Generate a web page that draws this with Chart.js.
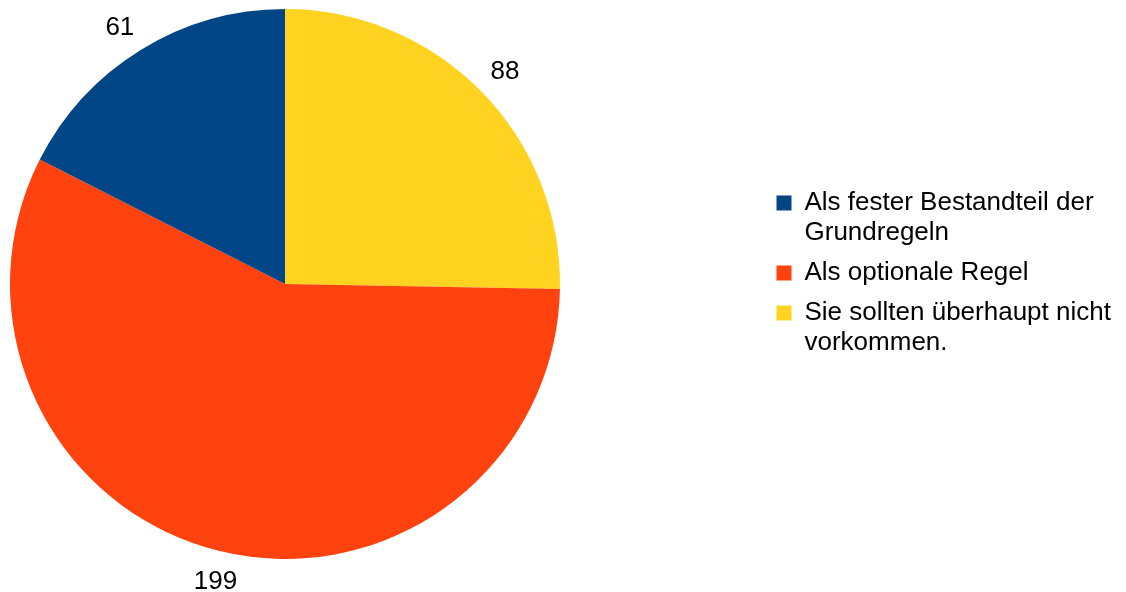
<!DOCTYPE html>
<html>
<head>
<meta charset="utf-8">
<title>Umfrage</title>
<script src="https://cdn.jsdelivr.net/npm/chart.js@4.4.1/dist/chart.umd.min.js"></script>
<style>
  html, body { margin: 0; padding: 0; background: #ffffff; }
  #wrap { width: 1126px; height: 592px; }
</style>
</head>
<body>
<div id="wrap"><canvas id="c" width="1126" height="592"></canvas></div>
<script>
// Answer categories (clockwise from 12 o'clock), split into legend lines
const categories = [
  ['Sie sollten überhaupt nicht', 'vorkommen.'],
  ['Als optionale Regel'],
  ['Als fester Bestandteil der', 'Grundregeln']
];
// Number of answers per category
const answers = [88, 199, 61];
// Slice colours
const sliceColors = ['#ffd320', '#ff420e', '#004586'];

const FONT = '"Liberation Sans", Arial, Helvetica, sans-serif';

// Writes each slice's value just outside the rim. The anchor sits on the
// slice's middle angle; the text box hangs off it by edge or corner,
// depending on which of eight 45° sectors the angle falls in.
const sliceValueLabels = {
  id: 'sliceValueLabels',
  afterDatasetsDraw(chart) {
    const ctx = chart.ctx;
    const meta = chart.getDatasetMeta(0);
    const values = chart.data.datasets[0].data;
    const size = 26;
    const gap = 13;
    const ascent = size * 1.0;
    const descent = size * 0.14;
    const lim = Math.sin(Math.PI / 8);
    ctx.save();
    ctx.font = size + 'px ' + FONT;
    ctx.fillStyle = '#000000';
    ctx.textBaseline = 'alphabetic';
    meta.data.forEach((arc, i) => {
      const p = arc.getProps(['x', 'y', 'startAngle', 'endAngle', 'outerRadius'], true);
      const mid = (p.startAngle + p.endAngle) / 2;
      const ux = Math.cos(mid), uy = Math.sin(mid);
      const ax = p.x + ux * (p.outerRadius + gap);
      const ay = p.y + uy * (p.outerRadius + gap);
      ctx.textAlign = ux > lim ? 'left' : (ux < -lim ? 'right' : 'center');
      let by;
      if (uy > lim) by = ay + ascent;
      else if (uy < -lim) by = ay - descent;
      else by = ay + (ascent - descent) / 2;
      ctx.fillText(String(values[i]), ax, by);
    });
    ctx.restore();
  }
};

// Puts the legend block to the right of the pie
const legendPlacement = {
  id: 'legendPlacement',
  afterLayout(chart) {
    const lg = chart.legend;
    if (!lg) return;
    const w = lg.width;
    lg.left = 766.5;
    lg.right = lg.left + w;
    lg.top = 180;
    lg.bottom = chart.height;
  }
};

new Chart(document.getElementById('c'), {
  type: 'pie',
  data: {
    labels: categories,
    datasets: [{
      data: answers,
      backgroundColor: sliceColors,
      borderWidth: 0,
      hoverOffset: 0
    }]
  },
  options: {
    responsive: false,
    animation: false,
    events: [],
    layout: { padding: { left: 10, top: 9, right: 566, bottom: 33 } },
    plugins: {
      tooltip: { enabled: false },
      legend: {
        position: 'chartArea',
        align: 'start',
        reverse: true,
        labels: {
          boxWidth: 15,
          boxHeight: 15,
          padding: 10,
          color: '#000000',
          font: { family: FONT, size: 26, lineHeight: 30 / 26 }
        }
      }
    }
  },
  plugins: [sliceValueLabels, legendPlacement]
});
</script>
</body>
</html>
